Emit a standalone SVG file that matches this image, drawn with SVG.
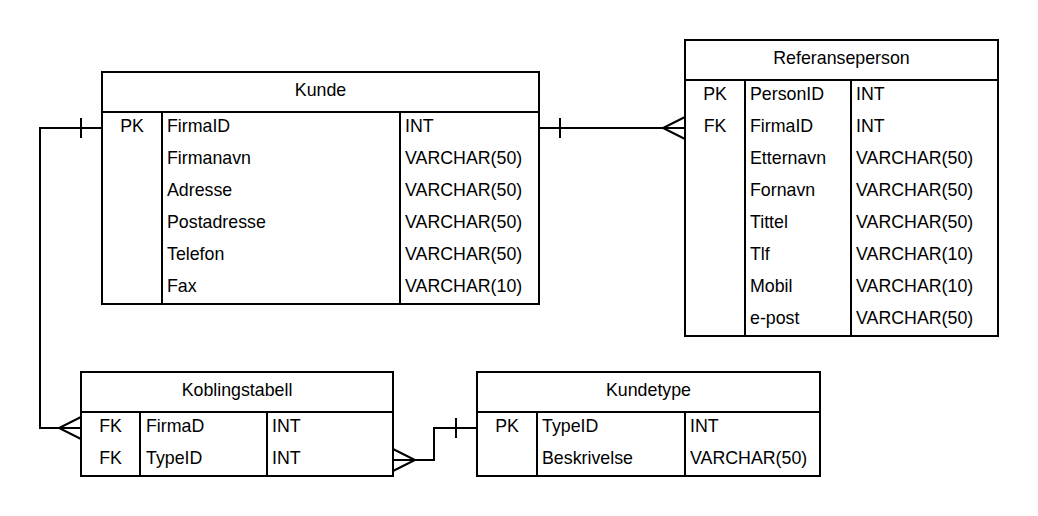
<svg xmlns="http://www.w3.org/2000/svg" width="1038" height="516" viewBox="0 0 1038 516">
<style>
.box{fill:#fff;stroke:#000;stroke-width:2}
.ln{fill:none;stroke:#000;stroke-width:2}
text{font-family:"Liberation Sans",Arial,sans-serif;font-size:17.8px;fill:#000}
.c{text-anchor:middle}
</style>
<rect width="1038" height="516" fill="#fff"/>
<g id="connectors">
<path class="ln" d="M539,128 H685 M560,118 V138 M685,117 L663,128 L685,139"/>
<path class="ln" d="M102,128 H40 V428 H81 M81,118 V138 M81,417 L59,428 L81,439"/>
<path class="ln" d="M393,460 H434 V428 H477 M456,418 V438 M393,449 L415,460 L393,471"/>
</g>
<g id="kunde">
<rect class="box" x="102" y="72" width="437" height="232"/>
<path class="ln" d="M102,112 H539 M162,112 V304 M400,112 V304"/>
<text class="c" x="320.5" y="96">Kunde</text>
<text class="c" x="132" y="132">PK</text>
<text x="167" y="132">FirmaID</text><text x="405" y="132">INT</text>
<text x="167" y="164">Firmanavn</text><text x="405" y="164">VARCHAR(50)</text>
<text x="167" y="196">Adresse</text><text x="405" y="196">VARCHAR(50)</text>
<text x="167" y="228">Postadresse</text><text x="405" y="228">VARCHAR(50)</text>
<text x="167" y="260">Telefon</text><text x="405" y="260">VARCHAR(50)</text>
<text x="167" y="292">Fax</text><text x="405" y="292">VARCHAR(10)</text>
</g>
<g id="referanseperson">
<rect class="box" x="685" y="40" width="313" height="296"/>
<path class="ln" d="M685,80 H998 M745,80 V336 M851,80 V336"/>
<text class="c" x="841.5" y="64">Referanseperson</text>
<text class="c" x="715" y="100">PK</text>
<text class="c" x="715" y="132">FK</text>
<text x="750" y="100">PersonID</text><text x="856" y="100">INT</text>
<text x="750" y="132">FirmaID</text><text x="856" y="132">INT</text>
<text x="750" y="164">Etternavn</text><text x="856" y="164">VARCHAR(50)</text>
<text x="750" y="196">Fornavn</text><text x="856" y="196">VARCHAR(50)</text>
<text x="750" y="228">Tittel</text><text x="856" y="228">VARCHAR(50)</text>
<text x="750" y="260">Tlf</text><text x="856" y="260">VARCHAR(10)</text>
<text x="750" y="292">Mobil</text><text x="856" y="292">VARCHAR(10)</text>
<text x="750" y="324">e-post</text><text x="856" y="324">VARCHAR(50)</text>
</g>
<g id="koblingstabell">
<rect class="box" x="81" y="372" width="312" height="104"/>
<path class="ln" d="M81,412 H393 M140,412 V476 M267,412 V476"/>
<text class="c" x="237" y="396">Koblingstabell</text>
<text class="c" x="110.5" y="432">FK</text>
<text class="c" x="110.5" y="464">FK</text>
<text x="146" y="432">FirmaD</text><text x="272" y="432">INT</text>
<text x="146" y="464">TypeID</text><text x="272" y="464">INT</text>
</g>
<g id="kundetype">
<rect class="box" x="477" y="372" width="343" height="104"/>
<path class="ln" d="M477,412 H820 M537,412 V476 M685,412 V476"/>
<text class="c" x="648.5" y="396">Kundetype</text>
<text class="c" x="507" y="432">PK</text>
<text x="542" y="432">TypeID</text><text x="690" y="432">INT</text>
<text x="542" y="464">Beskrivelse</text><text x="690" y="464">VARCHAR(50)</text>
</g>
</svg>
